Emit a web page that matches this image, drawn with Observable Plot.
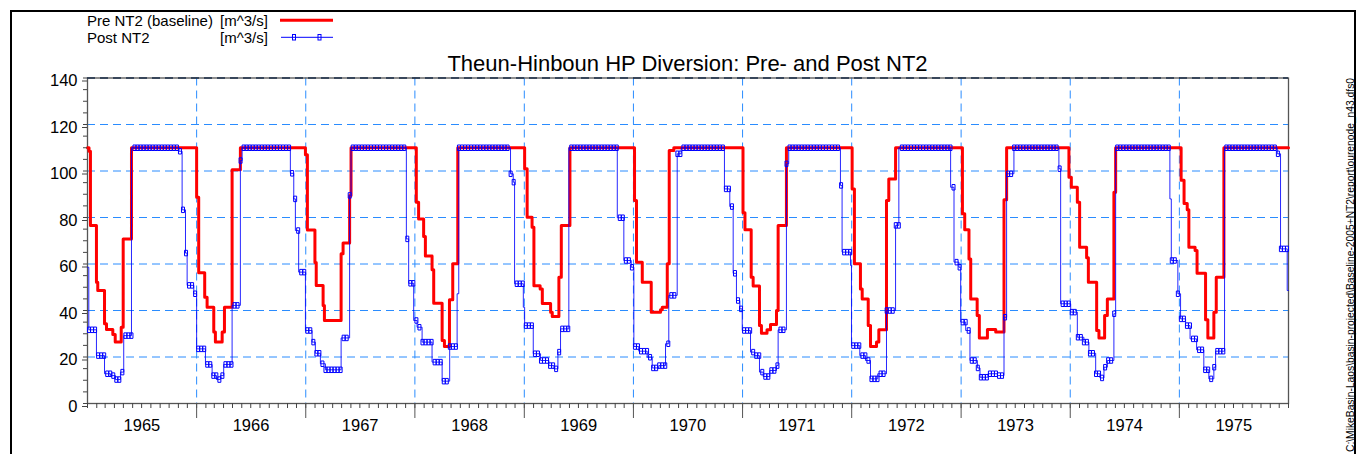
<!DOCTYPE html>
<html><head><meta charset="utf-8">
<script src="https://cdn.jsdelivr.net/npm/d3@7"></script>
<script src="https://cdn.jsdelivr.net/npm/@observablehq/plot@0.6"></script>
<style>
body{margin:0;background:#fff;font-family:"Liberation Sans",Arial,sans-serif;}
#wrap{position:relative;width:1359px;height:454px;overflow:hidden;background:#fff;}
#chart,#deco{position:absolute;left:0;top:0;}
#deco{pointer-events:none;}
</style>
</head><body>
<div id="wrap">
<div id="chart"></div>
<svg id="deco" width="1359" height="454" font-family="Liberation Sans, Arial, sans-serif">
  <rect x="11" y="11" width="1344" height="470" fill="none" stroke="#000" stroke-width="2"/>
  <text x="87" y="26" font-size="15">Pre NT2 (baseline)</text>
  <text x="220" y="26" font-size="15">[m^3/s]</text>
  <line x1="280" x2="333" y1="20.3" y2="20.3" stroke="#ff0000" stroke-width="3"/>
  <text x="87" y="42.7" font-size="15">Post NT2</text>
  <text x="220" y="42.7" font-size="15">[m^3/s]</text>
  <line x1="281" x2="333" y1="37.3" y2="37.3" stroke="#0000ff" stroke-width="1"/>
  <rect x="292.5" y="34.5" width="3" height="5.5" fill="none" stroke="#0000ff" stroke-width="1"/>
  <rect x="318" y="34.5" width="3" height="5.5" fill="none" stroke="#0000ff" stroke-width="1"/>
  <text x="687.5" y="71" font-size="22" text-anchor="middle">Theun-Hinboun HP Diversion: Pre- and Post NT2</text>
  <text transform="translate(1354,452) rotate(-90)" font-size="10" textLength="374" lengthAdjust="spacingAndGlyphs">C:\MikeBasin-Laos\basin-projected\Baseline-2005+NT2\report\ourenode_n43.dfs0</text>
</svg>
</div>
<script>
// ---- Data (time as decimal years, values in m^3/s) ----
const preT = [
  1965.000,1965.014,1965.027,1965.082,1965.094,1965.156,1965.174,1965.232,1965.254,1965.309,1965.327,1965.403,
  1966.000,1966.019,1966.074,1966.096,1966.157,1966.172,1966.234,1966.255,1966.325,1966.401,
  1966.997,1967.015,1967.084,1967.096,1967.159,1967.171,1967.324,1967.342,1967.402,1967.415,
  1968.013,1968.034,1968.080,1968.096,1968.157,1968.172,1968.249,1968.270,1968.316,1968.346,1968.392,
  1969.003,1969.026,1969.071,1969.088,1969.145,1969.165,1969.241,1969.256,1969.317,1969.339,1969.418,
  1970.010,1970.028,1970.081,1970.163,1970.248,1970.264,1970.310,1970.328,1970.370,
  1971.004,1971.022,1971.079,1971.097,1971.155,1971.173,1971.224,1971.256,1971.311,1971.326,1971.402,
  1972.004,1972.025,1972.080,1972.096,1972.151,1972.172,1972.227,1972.248,1972.318,1972.339,1972.401,
  1973.012,1973.033,1973.072,1973.088,1973.147,1973.167,1973.241,1973.317,1973.393,1973.417,
  1973.988,1974.010,1974.065,1974.086,1974.150,1974.166,1974.242,1974.263,1974.315,1974.340,1974.400,1974.416,
  1975.016,1975.043,1975.072,1975.087,1975.144,1975.162,1975.240,1975.261,1975.316,1975.338,1975.408,
  1976.000];
const preV = [
  110,108.5,76.6,52.2,48.6,34.3,31.8,29.7,26.4,32.8,70.8,110,
  88.7,56.2,45.7,41.4,30.7,26.4,30.7,41.4,100.5,110,
  107,74.6,60.6,50.7,42.2,35.7,64.4,69,89.5,110,
  86.6,79.4,71.8,63.4,57.5,43.1,27.1,24.5,44.6,60.1,110,
  101,80.1,75.8,50.6,49.3,43,39.3,37.4,54.3,76.6,110,
  87.3,60.8,52.2,39.3,40.3,41.4,60.1,108.8,110,
  82,74.7,54.3,50.5,33.5,30.2,31.7,34,40,76.6,110,
  92.3,60.1,49.3,45,33.5,24.5,26.4,31.7,87.3,96.6,110,
  81.6,74.7,62.2,45,37.8,28.2,31.8,30.7,87.6,110,
  97.3,93,86.6,67.2,62.7,52.2,31.4,28.2,37.8,45,90.9,110,
  96,86,83.3,67.2,65.8,56,36,28.2,39.3,54.3,110,
  110];
const postT = [
  1965.000,1965.012,1965.082,1965.156,1965.211,1965.256,1965.302,1965.332,1965.403,
  1965.838,1965.867,1965.898,1965.913,1965.974,
  1966.000,1966.081,1966.142,1966.182,1966.218,1966.248,1966.325,1966.401,1966.417,
  1966.859,1966.890,1966.905,1966.935,
  1966.997,1967.058,1967.088,1967.134,1967.180,1967.324,1967.402,1967.415,
  1967.922,1967.943,1967.989,
  1968.020,1968.066,1968.157,1968.249,1968.318,1968.386,1968.401,
  1968.874,1968.899,1968.911,1968.991,
  1969.003,1969.082,1969.149,1969.225,1969.271,1969.308,1969.332,1969.408,
  1969.852,1969.912,1969.980,
  1970.004,1970.049,1970.126,1970.172,1970.233,1970.294,1970.324,1970.401,1970.438,
  1970.834,1970.883,1970.914,1970.944,1970.975,1970.997,
  1971.073,1971.109,1971.155,1971.189,1971.249,1971.311,1971.326,1971.402,1971.423,
  1971.897,1971.912,1971.989,1971.998,
  1972.074,1972.126,1972.172,1972.238,1972.318,1972.401,1972.431,
  1972.904,1972.935,1972.980,1972.996,
  1973.042,1973.081,1973.149,1973.173,1973.246,1973.332,1973.393,1973.417,1973.484,
  1973.896,1973.912,
  1974.004,1974.065,1974.125,1974.171,1974.233,1974.272,1974.309,1974.340,1974.400,1974.416,
  1974.913,1974.926,1974.986,
  1975.011,1975.057,1975.098,1975.158,1975.224,1975.270,1975.316,1975.332,1975.414,
  1975.897,1975.927,1975.988,1976.000];
const postV = [
  58.6,31.7,20.6,12.8,12,10.3,13.5,29.2,110,
  108.5,83.3,64.7,50.8,47.2,
  23.5,16.8,12,10.3,12,16.8,42.2,104.5,110,
  99,88,74.4,56.5,
  31.4,26.4,21.6,17.1,14.5,28.2,89.5,110,
  70.8,51.7,35.7,
  32.8,26.4,17.8,9.6,24.5,47.2,110,
  98.8,95.2,51.5,41.4,
  33.5,21.4,18.5,16.3,14.9,22.1,32.1,110,
  79.9,61.5,58.6,
  24.5,22.5,19.9,15.3,16.3,25.7,46.5,107.4,110,
  92.3,84.7,56,44.3,40.7,31.4,
  22.1,20.6,13.5,11.6,14.2,16.3,31.7,103.1,110,
  93.8,65.1,59.4,24.9,
  20.6,18.5,10.6,12.8,40,76.6,110,
  93,60.8,58.6,35,
  31.4,18.5,15.3,11.3,12.8,12,37.1,98.8,110,
  101,42.9,
  39.3,28.5,26.4,21.6,12.8,11,15.6,18.5,38.6,110,
  88,61.5,47.2,
  36.4,33.5,27.8,23.1,14.5,10.6,15.6,22.5,110,
  107.4,66.5,48.6,48.6];
const years = [1965,1966,1967,1968,1969,1970,1971,1972,1973,1974,1975];
const yMajor = [0,20,40,60,80,100,120,140];
const yMinor = d3.range(0, 141, 5);

// ---- helpers ----
function toDate(t){
  const y = Math.floor(t + 1e-9), s = Date.UTC(y,0,1), e = Date.UTC(y+1,0,1);
  return new Date(s + (t - y) * (e - s));
}
const pre = preT.map((t,i)=>({date:toDate(t), v:preV[i]}));
const post = postT.map((t,i)=>({date:toDate(t), v:postV[i]}));
function stepAt(T, V, t){ let i = d3.bisectRight(T, t) - 1; return V[Math.max(0,i)]; }
// markers on the Post NT2 series at every dekad (10-day) sample
const markers = d3.range(0, 396).map(k => {
  const t = 1965 + (k + 0.5) / 36;
  return {date: toDate(t), v: stepAt(postT, postV, t)};
});
const rectSymbol = {draw(ctx){ ctx.moveTo(-1.5,-2.75); ctx.lineTo(1.5,-2.75); ctx.lineTo(1.5,2.75); ctx.lineTo(-1.5,2.75); ctx.closePath(); }};
const yearStarts = years.map(y => new Date(Date.UTC(y,0,1)));
const midYears = years.map(y => new Date(Date.UTC(y,6,2)));
const months = d3.utcMonth.range(new Date(Date.UTC(1965,0,1)), new Date(Date.UTC(1976,0,2)));
const gridColor = "#2a8cff";

const chart = Plot.plot({
  width: 1359, height: 454,
  marginLeft: 87, marginRight: 71, marginTop: 77.5, marginBottom: 51,
  x: {type: "utc", domain: [toDate(1965), toDate(1976)]},
  y: {domain: [0, 140]},
  style: {fontFamily: "Liberation Sans, Arial, sans-serif", fontSize: "16.5px", color: "#000", background: "transparent", overflow: "visible"},
  marks: [
    Plot.gridY([20,40,60,80,100,120], {stroke: gridColor, strokeOpacity: 1, strokeWidth: 1, strokeDasharray: "8,5"}),
    Plot.gridX(yearStarts.slice(1), {stroke: gridColor, strokeOpacity: 1, strokeWidth: 1, strokeDasharray: "8,5"}),
    Plot.frame({stroke: "#555", strokeWidth: 1.3}),
    Plot.ruleY([140], {stroke: "#1c2f4a", strokeWidth: 1.3, strokeDasharray: "8,5"}),
    Plot.line(pre, {x: "date", y: "v", curve: "step-after", stroke: "#ff0000", strokeWidth: 3}),
    Plot.line(post, {x: "date", y: "v", curve: "step-after", stroke: "#0000ff", strokeWidth: 1, strokeOpacity: 0.85}),
    Plot.dot(markers, {x: "date", y: "v", symbol: rectSymbol, r: 3, stroke: "#0000ff", strokeWidth: 1, fill: "none"}),
    Plot.axisY(yMajor, {tickSize: 5, tickPadding: 5, dy: 3, stroke: "#444", label: null, fontSize: 16.5}),
    Plot.axisY(yMinor, {tickSize: 4, stroke: "#444", fill: "none", label: null}),
    Plot.axisX(months, {tickSize: 5, stroke: "#444", fill: "none", label: null}),
    Plot.axisX(yearStarts.slice(1), {tickSize: 15, stroke: "#555", fill: "none", label: null}),
    Plot.axisX(midYears, {tickSize: 0, tickPadding: 16, tickFormat: d => String(d.getUTCFullYear()), label: null, fontSize: 16.5})
  ]
});
document.getElementById("chart").appendChild(chart);
</script>
</body></html>
